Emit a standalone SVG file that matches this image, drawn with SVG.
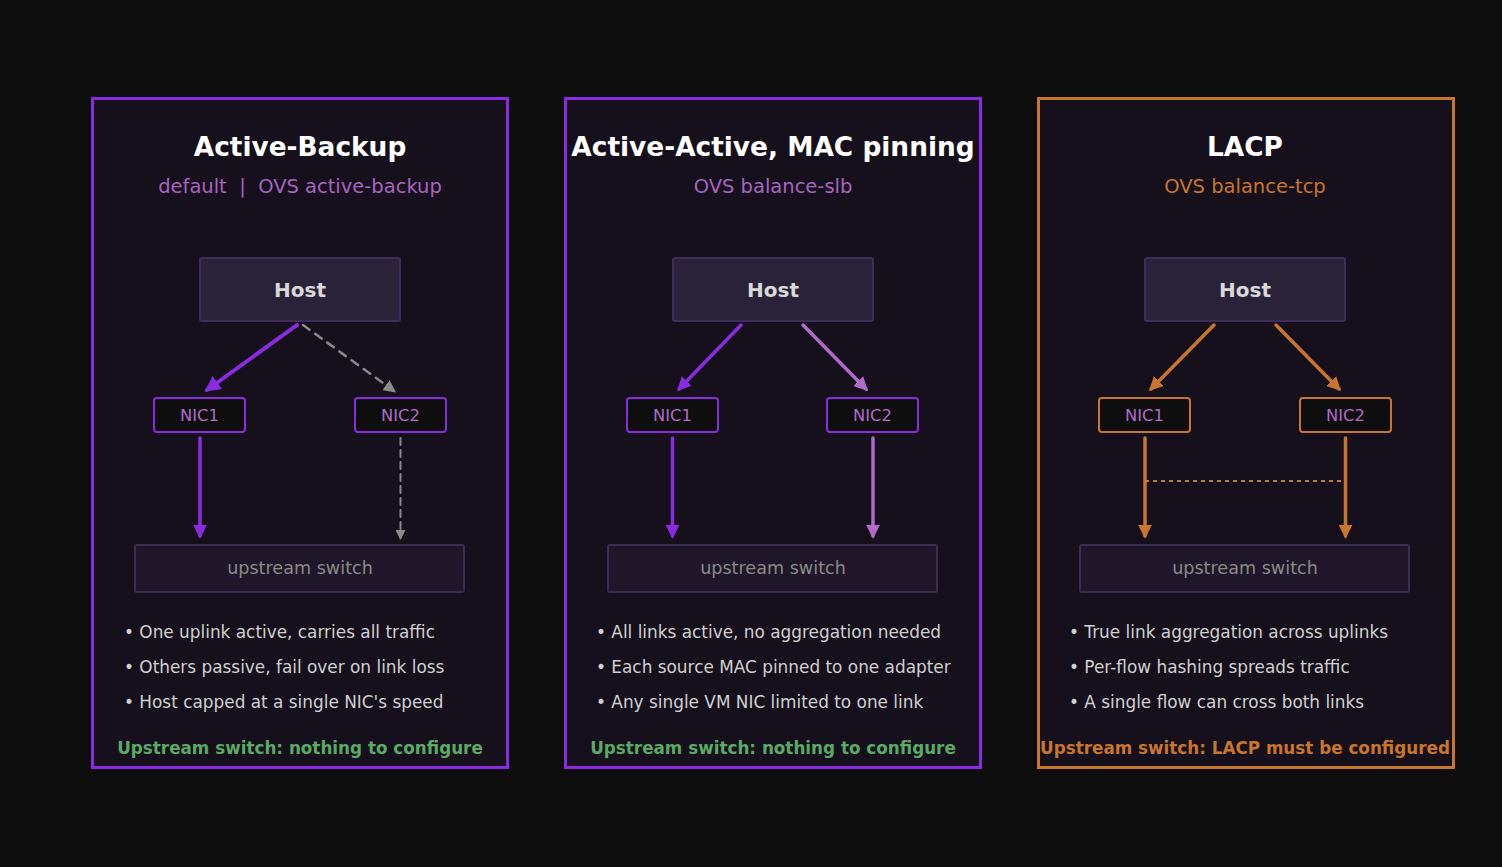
<svg xmlns="http://www.w3.org/2000/svg" width="1502" height="867" viewBox="0 0 1502 867">
<style>
.panel{fill:#15101b;stroke-width:3}
.pp{stroke:#8a2be2}
.po{stroke:#c8762e}
.title{font-family:"DejaVu Sans",sans-serif;font-weight:bold;font-size:26.4px;fill:#ffffff;text-anchor:middle}
.sub{font-family:"DejaVu Sans",sans-serif;font-size:19.5px;text-anchor:middle}
.host{fill:#2a2238;stroke:#3d2d58;stroke-width:2}
.hostt{font-family:"DejaVu Sans",sans-serif;font-weight:bold;font-size:20px;fill:#d8d8d8;text-anchor:middle}
.nic{fill:#0e0e0e;stroke-width:2}
.nict{font-family:"DejaVu Sans",sans-serif;font-size:16.4px;fill:#b06ac8;text-anchor:middle}
.sw{fill:#1f1729;stroke:#3a2d52;stroke-width:2}
.swt{font-family:"DejaVu Sans",sans-serif;font-size:17.6px;fill:#8a8a8a;text-anchor:middle}
.bul{font-family:"DejaVu Sans",sans-serif;font-size:16.9px;fill:#d0d0d0}
.foot{font-family:"DejaVu Sans",sans-serif;font-weight:bold;font-size:16.8px;text-anchor:middle}
.a{fill:none;stroke-linecap:round}
</style>
<defs>
<marker id="mp" viewBox="0 0 10 10" refX="8" refY="5" markerWidth="4" markerHeight="4" orient="auto" markerUnits="strokeWidth"><path d="M0,0L10,5L0,10z" fill="#8a2be2"/></marker>
<marker id="ml" viewBox="0 0 10 10" refX="8" refY="5" markerWidth="4" markerHeight="4" orient="auto" markerUnits="strokeWidth"><path d="M0,0L10,5L0,10z" fill="#b06ac8"/></marker>
<marker id="mo" viewBox="0 0 10 10" refX="8" refY="5" markerWidth="4" markerHeight="4" orient="auto" markerUnits="strokeWidth"><path d="M0,0L10,5L0,10z" fill="#c8762e"/></marker>
<marker id="mg" viewBox="0 0 10 10" refX="8" refY="5" markerWidth="5" markerHeight="5" orient="auto" markerUnits="strokeWidth"><path d="M0,0L10,5L0,10z" fill="#8a8a8a"/></marker>
</defs>
<rect width="1502" height="867" fill="#0d0d0d"/>

<g id="panel-active-backup">
<rect class="panel pp" x="92.5" y="98.5" width="415" height="669"/>
<text class="title" x="300" y="156">Active-Backup</text>
<text class="sub" x="300" y="193" fill="#a864c0" xml:space="preserve">default  |  OVS active-backup</text>
<g id="ab-host"><rect class="host" x="200" y="258" width="200" height="63" rx="2"/><text class="hostt" x="300" y="297">Host</text></g>
<g id="ab-nic1"><rect class="nic" x="154" y="398" width="91" height="34" rx="3" stroke="#8a2be2"/><text class="nict" x="199.5" y="421">NIC1</text></g>
<g id="ab-nic2"><rect class="nic" x="355" y="398" width="91" height="34" rx="3" stroke="#8a2be2"/><text class="nict" x="400.5" y="421">NIC2</text></g>
<g id="ab-switch"><rect class="sw" x="135" y="545" width="329" height="47" rx="2"/><text class="swt" x="300" y="574">upstream switch</text></g>
<text class="bul" x="124" y="638">• One uplink active, carries all traffic</text>
<text class="bul" x="124" y="673">• Others passive, fail over on link loss</text>
<text class="bul" x="124" y="708">• Host capped at a single NIC's speed</text>
<text class="foot" x="300" y="754" fill="#5aaa66">Upstream switch: nothing to configure</text>
</g>

<g id="panel-active-active">
<rect class="panel pp" x="565.5" y="98.5" width="415" height="669"/>
<text class="title" x="773" y="156">Active-Active, MAC pinning</text>
<text class="sub" x="773" y="193" fill="#a864c0">OVS balance-slb</text>
<g id="aa-host"><rect class="host" x="673" y="258" width="200" height="63" rx="2"/><text class="hostt" x="773" y="297">Host</text></g>
<g id="aa-nic1"><rect class="nic" x="627" y="398" width="91" height="34" rx="3" stroke="#8a2be2"/><text class="nict" x="672.5" y="421">NIC1</text></g>
<g id="aa-nic2"><rect class="nic" x="827" y="398" width="91" height="34" rx="3" stroke="#8a2be2"/><text class="nict" x="872.5" y="421">NIC2</text></g>
<g id="aa-switch"><rect class="sw" x="608" y="545" width="329" height="47" rx="2"/><text class="swt" x="773" y="574">upstream switch</text></g>
<text class="bul" x="596" y="638">• All links active, no aggregation needed</text>
<text class="bul" x="596" y="673">• Each source MAC pinned to one adapter</text>
<text class="bul" x="596" y="708">• Any single VM NIC limited to one link</text>
<text class="foot" x="773" y="754" fill="#5aaa66">Upstream switch: nothing to configure</text>
</g>

<g id="panel-lacp">
<rect class="panel po" x="1038.5" y="98.5" width="415" height="669"/>
<text class="title" x="1245" y="156">LACP</text>
<text class="sub" x="1245" y="193" fill="#c8762e">OVS balance-tcp</text>
<g id="lacp-host"><rect class="host" x="1145" y="258" width="200" height="63" rx="2"/><text class="hostt" x="1245" y="297">Host</text></g>
<g id="lacp-nic1"><rect class="nic" x="1099" y="398" width="91" height="34" rx="3" stroke="#c8762e"/><text class="nict" x="1144.5" y="421">NIC1</text></g>
<g id="lacp-nic2"><rect class="nic" x="1300" y="398" width="91" height="34" rx="3" stroke="#c8762e"/><text class="nict" x="1345.5" y="421">NIC2</text></g>
<g id="lacp-switch"><rect class="sw" x="1080" y="545" width="329" height="47" rx="2"/><text class="swt" x="1245" y="574">upstream switch</text></g>
<text class="bul" x="1069" y="638">• True link aggregation across uplinks</text>
<text class="bul" x="1069" y="673">• Per-flow hashing spreads traffic</text>
<text class="bul" x="1069" y="708">• A single flow can cross both links</text>
<text class="foot" x="1245" y="754" fill="#c8762e">Upstream switch: LACP must be configured</text>
</g>

<g id="connectors">
<line class="a" x1="297" y1="325" x2="207" y2="390" stroke="#8a2be2" stroke-width="4" marker-end="url(#mp)"/>
<line class="a" x1="303" y1="325" x2="394" y2="391" stroke="#8a8a8a" stroke-width="2.5" stroke-dasharray="8,7" stroke-linecap="butt" marker-end="url(#mg)"/>
<line class="a" x1="200" y1="438" x2="200" y2="536" stroke="#8a2be2" stroke-width="3.5" marker-end="url(#mp)"/>
<line class="a" x1="400.5" y1="438" x2="400.5" y2="538" stroke="#8a8a8a" stroke-width="2" stroke-dasharray="7,5" stroke-linecap="butt" marker-end="url(#mg)"/>

<line class="a" x1="741" y1="325" x2="679" y2="389" stroke="#8a2be2" stroke-width="3.5" marker-end="url(#mp)"/>
<line class="a" x1="803" y1="325" x2="866" y2="389" stroke="#b06ac8" stroke-width="3.5" marker-end="url(#ml)"/>
<line class="a" x1="672.5" y1="438" x2="672.5" y2="536" stroke="#8a2be2" stroke-width="3.5" marker-end="url(#mp)"/>
<line class="a" x1="873" y1="438" x2="873" y2="536" stroke="#b06ac8" stroke-width="3.5" marker-end="url(#ml)"/>

<line class="a" x1="1214" y1="325" x2="1151" y2="389" stroke="#c8762e" stroke-width="3.5" marker-end="url(#mo)"/>
<line class="a" x1="1276" y1="325" x2="1339" y2="389" stroke="#c8762e" stroke-width="3.5" marker-end="url(#mo)"/>
<line class="a" x1="1145" y1="438" x2="1145" y2="536" stroke="#c8762e" stroke-width="3.5" marker-end="url(#mo)"/>
<line class="a" x1="1345.5" y1="438" x2="1345.5" y2="536" stroke="#c8762e" stroke-width="3.5" marker-end="url(#mo)"/>
<line x1="1145" y1="481" x2="1345" y2="481" stroke="#c8762e" stroke-width="2" stroke-dasharray="4,4"/>
</g>
</svg>
